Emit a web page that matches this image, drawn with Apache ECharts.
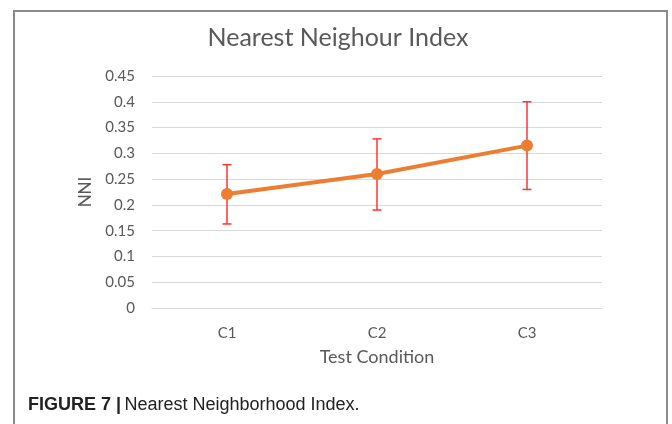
<!DOCTYPE html>
<html><head><meta charset="utf-8">
<script src="https://cdn.jsdelivr.net/npm/echarts@6/dist/echarts.min.js"></script>
<style>html,body{margin:0;padding:0;background:#fff}#c{width:672px;height:424px}</style>
</head><body><div id="c"></div>
<script>
const categories = ['C1', 'C2', 'C3'];
const nniMean = [0.221, 0.260, 0.315];
const nniLow = [0.163, 0.190, 0.230];
const nniHigh = [0.278, 0.328, 0.400];
const yTicks = ['0','0.05','0.1','0.15','0.2','0.25','0.3','0.35','0.4','0.45'];

const chart = echarts.init(document.getElementById('c'), null, {renderer: 'canvas'});
const txt = '#595959';
const font = 'Lato, "Open Sans", sans-serif';
chart.setOption({
  animation: false,
  backgroundColor: '#fff',
  grid: {left: 152, right: 70, top: 76, bottom: 116},
  xAxis: {
    type: 'category', data: categories,
    name: 'Test Condition', nameLocation: 'middle', nameGap: 40,
    nameTextStyle: {color: txt, fontSize: 18, fontFamily: font},
    axisLine: {show: true, lineStyle: {color: '#d9d9d9', width: 1}},
    axisTick: {show: false},
    axisLabel: {color: txt, fontSize: 15, fontFamily: font, margin: 18}
  },
  yAxis: {
    type: 'value', min: 0, max: 0.45, interval: 0.05,
    name: 'NNI', nameLocation: 'middle', nameGap: 57,
    nameTextStyle: {color: txt, fontSize: 17, fontFamily: font},
    axisLine: {show: false}, axisTick: {show: false},
    axisLabel: {color: txt, fontSize: 15, fontFamily: font, margin: 17,
      formatter: function (v) { return yTicks[Math.round(v / 0.05)]; }},
    splitLine: {lineStyle: {color: '#d9d9d9', width: 1}}
  },
  series: [
    {
      type: 'custom', z: 1,
      data: categories.map((c, i) => [i, nniLow[i], nniHigh[i]]),
      renderItem: function (params, api) {
        const lo = api.coord([api.value(0), api.value(1)]);
        const hi = api.coord([api.value(0), api.value(2)]);
        const hw = 4.5;
        const st = {stroke: '#ff3333', lineWidth: 1.5};
        return {type: 'group', children: [
          {type: 'line', shape: {x1: lo[0], y1: lo[1], x2: hi[0], y2: hi[1]}, style: st},
          {type: 'line', shape: {x1: lo[0]-hw, y1: lo[1], x2: lo[0]+hw, y2: lo[1]}, style: st},
          {type: 'line', shape: {x1: hi[0]-hw, y1: hi[1], x2: hi[0]+hw, y2: hi[1]}, style: st}
        ]};
      }
    },
    {
      type: 'line', z: 2, data: nniMean,
      symbol: 'circle', symbolSize: 12,
      lineStyle: {color: '#ed7d31', width: 4},
      itemStyle: {color: '#ed7d31'}
    }
  ],
  graphic: [
    {type: 'polyline', silent: true,
     shape: {points: [[14, 440], [14, 11], [667, 11], [667, 440]]},
     style: {stroke: '#8a8a8a', lineWidth: 2, fill: null}},
    {type: 'text', x: 338, y: 38, silent: true,
     style: {text: 'Nearest Neighour Index', fill: txt, fontSize: 25, fontFamily: font,
       align: 'center', verticalAlign: 'middle'}},
    {type: 'text', x: 28, y: 405, silent: true,
     style: {verticalAlign: 'middle', rich: {
       b: {fontFamily: '"Liberation Sans", Arial, sans-serif', fontWeight: 'bold', fontSize: 18, fill: '#222'},
       n: {fontFamily: '"Liberation Sans", Arial, sans-serif', fontSize: 18, fill: '#222'}
     }, text: '{b|FIGURE 7 |} {n|Nearest Neighborhood Index.}'}}
  ]
});
</script></body></html>
